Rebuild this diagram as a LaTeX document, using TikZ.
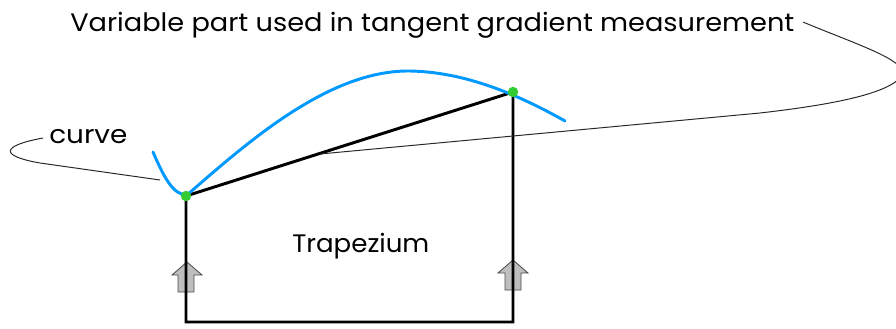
\documentclass[tikz,border=0pt]{standalone}
\usepackage{fontspec}
\setmainfont{Poppins}
\definecolor{curveblue}{RGB}{0,153,255}
\definecolor{dotgreen}{RGB}{51,204,51}
\definecolor{arrowgray}{RGB}{190,190,190}
\definecolor{leadgray}{RGB}{40,40,40}
\newcommand{\widetext}[1]{\scalebox{1.075}[1]{#1}}
\begin{document}
\begin{tikzpicture}[x={(0.025cm,0)},y={(0,-0.025cm)},
  lbl/.style={inner sep=0pt,font=\fontsize{18}{20}\selectfont,text=black},
  frame/.style={line width=2.1pt,black},
  bluecurve/.style={line width=2.1pt,curveblue,line cap=round},
  leader/.style={line width=0.7pt,leadgray},
  gdot/.style={circle,fill=dotgreen,inner sep=0pt,minimum size=0.26cm},
  blockarrow/.style={fill=arrowgray,draw=black!70,line width=0.6pt}]
\useasboundingbox (0,0) rectangle (896,329);
% labels
\node[lbl,anchor=base west] (title) at (70,31) {\widetext{Variable part used in tangent gradient measurement}};
\node[lbl,anchor=base west] (curvelbl) at (49,143) {\scalebox{1.1}[1]{curve}};
\node[lbl,anchor=base west] (trap) at (292,252) {\scalebox{1.03}[1]{Trapezium}};
% points
\coordinate (A) at (186,196);
\coordinate (B) at (513,92);
\coordinate (C) at (186,322);
\coordinate (D) at (513,322);
\coordinate (curvetip) at (160,180);
\coordinate (diagtip) at (320,154);
\coordinate (titleend) at (803,22);
\coordinate (curvestart) at (43,138);
% block arrows
\draw[blockarrow] (187,262) -- (202,275) -- (194,275) -- (194,292) -- (178,292) -- (178,275) -- (172,275) -- cycle;
\draw[blockarrow] (513,260) -- (528,273) -- (521,273) -- (521,290) -- (505,290) -- (505,273) -- (498,273) -- cycle;
% trapezium
\draw[frame,line join=miter] (A) -- (C) -- (D) -- (B) -- cycle;
% blue curve
\draw[bluecurve] (153,152) .. controls (165,180) and (174,195) .. (187,195)
  .. controls (250,140) and (330,70) .. (410,71)
  .. controls (460,72) and (510,90) .. (565,121);
% leaders
\draw[leader] (curvestart) .. controls (0,146) and (0,156) .. (40,163) -- (curvetip);
\draw[leader] (titleend) .. controls (860,46) and (920,64) .. (898,80)
  .. controls (880,95) and (830,105) .. (760,113) -- (diagtip);
% dots
\node[gdot] (dA) at (A) {};
\node[gdot] (dB) at (B) {};
\end{tikzpicture}
\end{document}
